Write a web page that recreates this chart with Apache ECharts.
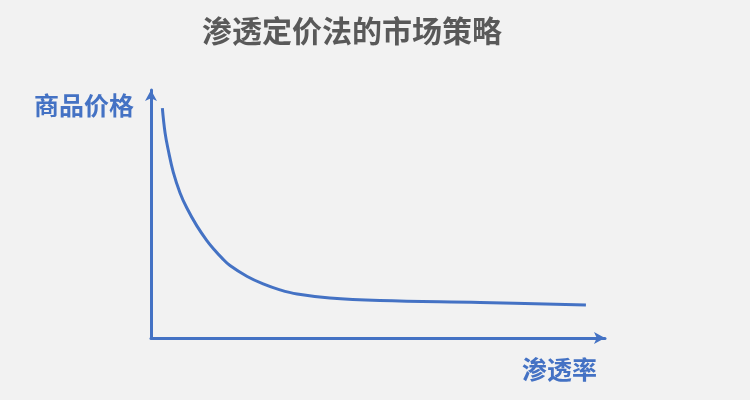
<!DOCTYPE html>
<html>
<head>
<meta charset="utf-8">
<style>
  html, body { margin: 0; padding: 0; background: #f2f2f2; }
  #chart { width: 750px; height: 400px; }
</style>
<script src="https://cdn.jsdelivr.net/npm/echarts@6/dist/echarts.min.js"></script>
</head>
<body>
<div id="chart"></div>
<script>
  const blue = '#4472c4';
  const titleText = '渗透定价法的市场策略';
  const yName = '商品价格';
  const xName = '渗透率';

  // 渗透率 (x) 与 商品价格 (y)，读自原图
  const penetration = [2.5, 3.1, 3.8, 4.9, 6.4, 7.9, 10.1, 12.3, 13.9, 15.6, 17.4, 21.2, 24.7, 28.4, 32.2, 39.4, 50.4, 72.5, 95.8];
  const price = [92.7, 82.7, 75.8, 66.9, 58.5, 52.4, 45.2, 39.3, 35.7, 32.3, 29.2, 24.8, 21.8, 19.4, 17.7, 16.1, 15.1, 14.3, 13.3];

  const points = penetration.map((x, i) => [x, price[i]]);

  const axisStyle = {
    show: true,
    symbol: ['none', 'arrow'],
    symbolSize: [9, 11],
    lineStyle: { color: blue, width: 3 }
  };

  const chart = echarts.init(document.getElementById('chart'));
  chart.setOption({
    backgroundColor: '#f2f2f2',
    animation: false,
    title: {
      text: titleText,
      left: 197,
      top: 11,
      textStyle: {
        fontFamily: 'Noto Sans CJK SC',
        fontSize: 30,
        fontWeight: 'bold',
        color: '#595959'
      }
    },
    grid: { left: 151, right: 145, top: 90, bottom: 62 },
    xAxis: {
      type: 'value',
      min: 0,
      max: 100,
      axisLine: axisStyle,
      axisTick: { show: false },
      axisLabel: { show: false },
      splitLine: { show: false }
    },
    yAxis: {
      type: 'value',
      min: 0,
      max: 100,
      axisLine: axisStyle,
      axisTick: { show: false },
      axisLabel: { show: false },
      splitLine: { show: false }
    },
    graphic: [
      {
        type: 'text',
        right: 750 - 134,
        top: 93,
        style: {
          text: yName,
          fill: blue,
          font: 'bold 25px "Noto Sans CJK SC"'
        }
      },
      {
        type: 'text',
        left: 522,
        top: 357,
        style: {
          text: xName,
          fill: blue,
          font: 'bold 25px "Noto Sans CJK SC"'
        }
      }
    ],
    series: [
      {
        type: 'line',
        data: points,
        smooth: 0.4,
        showSymbol: false,
        lineStyle: { color: blue, width: 3 }
      }
    ]
  });
</script>
</body>
</html>
